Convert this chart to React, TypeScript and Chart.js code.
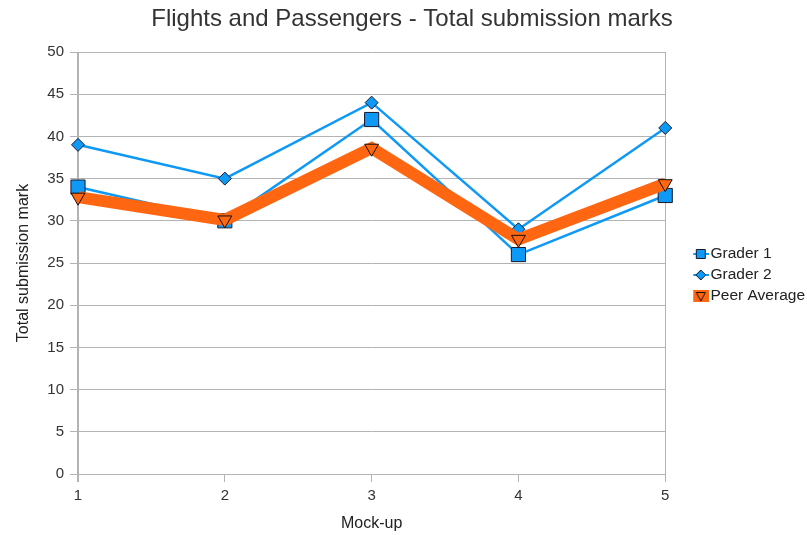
import React, { useEffect, useRef } from "react";
import { Chart, registerables } from "chart.js";

Chart.register(...registerables);

const categories = ["1", "2", "3", "4", "5"];
const grader1 = [34, 30, 42, 26, 33];
const grader2 = [39, 35, 44, 29, 41];
const peerAverage = [32.8, 30.1, 38.6, 27.8, 34.4];
const titleText = "Flights and Passengers - Total submission marks";

const BLUE = "#0d99f5";
const ORANGE = "#ff6611";
const EDGE = "#1a1a2e";
const GRID = "#b3b3b3";
const TEXT = "#333";
const FONT = "'Liberation Sans', Arial, sans-serif";

function legendIcon(kind: string): HTMLCanvasElement {
  const c = document.createElement("canvas");
  c.width = 16;
  c.height = 14;
  const g = c.getContext("2d")!;
  if (kind === "peer") {
    g.fillStyle = ORANGE;
    g.fillRect(0, 1, 16, 12);
    g.beginPath();
    g.moveTo(3.5, 3.5);
    g.lineTo(12.5, 3.5);
    g.lineTo(8, 12);
    g.closePath();
    g.strokeStyle = "#111";
    g.lineWidth = 1;
    g.stroke();
  } else {
    g.strokeStyle = BLUE;
    g.lineWidth = 2;
    g.beginPath();
    g.moveTo(0, 7);
    g.lineTo(16, 7);
    g.stroke();
    g.fillStyle = BLUE;
    g.strokeStyle = EDGE;
    g.lineWidth = 1;
    g.beginPath();
    if (kind === "square") {
      g.rect(3.5, 2.5, 9, 9);
    } else {
      g.moveTo(8, 2);
      g.lineTo(13, 7);
      g.lineTo(8, 12);
      g.lineTo(3, 7);
      g.closePath();
    }
    g.fill();
    g.stroke();
  }
  return c;
}

export default function App() {
  const ref = useRef<HTMLCanvasElement>(null);
  useEffect(() => {
    const icons = [legendIcon("square"), legendIcon("diamond"), legendIcon("peer")];
    const titlePlugin = {
      id: "mainTitle",
      afterDraw(chart: any) {
        const { ctx } = chart;
        ctx.save();
        ctx.font = `24px ${FONT}`;
        ctx.fillStyle = TEXT;
        ctx.textAlign = "center";
        ctx.textBaseline = "middle";
        ctx.fillText(titleText, 412, 19);
        ctx.restore();
      },
    };
    const chart = new Chart(ref.current!, {
      type: "line",
      data: {
        labels: categories,
        datasets: [
          {
            label: "Grader 1",
            data: grader1,
            borderColor: BLUE,
            backgroundColor: BLUE,
            borderWidth: 2.5,
            pointStyle: "rect",
            pointRadius: 10,
            pointBorderColor: EDGE,
            pointBorderWidth: 1,
            order: 2,
          },
          {
            label: "Grader 2",
            data: grader2,
            borderColor: BLUE,
            backgroundColor: BLUE,
            borderWidth: 2.5,
            pointStyle: "rectRot",
            pointRadius: 6.5,
            pointBorderColor: EDGE,
            pointBorderWidth: 1,
            order: 3,
          },
          {
            label: "Peer Average",
            data: peerAverage,
            borderColor: ORANGE,
            backgroundColor: ORANGE,
            borderWidth: 12,
            pointStyle: "triangle",
            pointRotation: 180,
            pointRadius: 8,
            pointBorderColor: "#111",
            pointBorderWidth: 1,
            order: 1,
          },
        ],
      },
      options: {
        animation: false,
        responsive: true,
        maintainAspectRatio: false,
        layout: { padding: { left: 0, right: -8, top: 52, bottom: 0 } },
        plugins: {
          title: { display: false },
          legend: {
            position: "right",
            fullSize: false,
            title: { display: true, text: " ", font: { size: 10 }, padding: { top: 4, bottom: 8 } },
            labels: {
              color: "#222",
              font: { family: FONT, size: 15.5 },
              usePointStyle: true,
              pointStyleWidth: 4,
              padding: 5.5,
              generateLabels: (ch: any) =>
                ch.data.datasets.map((d: any, i: number) => ({
                  text: d.label,
                  pointStyle: icons[i],
                  datasetIndex: i,
                  fontColor: "#222",
                  lineWidth: 0,
                  hidden: false,
                })),
            },
          },
          tooltip: { enabled: false },
        },
        scales: {
          x: {
            offset: false,
            afterFit: (s: any) => {
              s.height = 61;
            },
            title: {
              display: true,
              text: "Mock-up",
              color: "#222",
              font: { family: FONT, size: 16 },
              padding: { top: 0, bottom: 2 },
            },
            ticks: { color: TEXT, font: { family: FONT, size: 15 }, padding: 5 },
            grid: {
              color: (c: any) => (c.index === 0 ? GRID : "rgba(0,0,0,0)"),
              tickColor: GRID,
              tickLength: 8,
              lineWidth: (c: any) => (c.index === 0 ? 2 : 1),
            },
            border: { display: false },
          },
          y: {
            min: 0,
            max: 50,
            afterFit: (s: any) => {
              s.width = 78;
            },
            ticks: { stepSize: 5, color: TEXT, font: { family: FONT, size: 15 }, padding: 6 },
            title: {
              display: true,
              text: "Total submission mark",
              color: "#222",
              font: { family: FONT, size: 16 },
              padding: { top: 14, bottom: 0 },
            },
            grid: { color: GRID, tickLength: 8 },
            border: { display: false },
          },
          y2: {
            position: "right",
            min: 0,
            max: 50,
            afterFit: (s: any) => {
              s.width = 28;
            },
            ticks: { display: false },
            grid: { display: false, drawOnChartArea: false, drawTicks: false },
            border: { display: true, color: GRID, width: 1 },
          },
        },
      },
      plugins: [titlePlugin],
    });
    return () => chart.destroy();
  }, []);
  return (
    <div style={{ position: "fixed", left: 0, top: 0, width: 807, height: 535, background: "#fff" }}>
      <canvas ref={ref} />
    </div>
  );
}
